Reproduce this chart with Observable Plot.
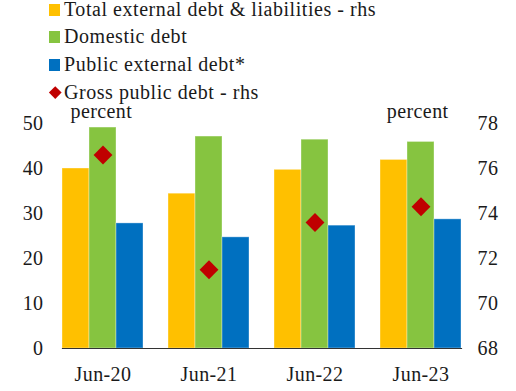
<!DOCTYPE html>
<html><head><meta charset="utf-8">
<script src="https://cdn.jsdelivr.net/npm/d3@7"></script>
<script src="https://cdn.jsdelivr.net/npm/@observablehq/plot@0.6"></script>
<style>
body{margin:0;background:#fff;font-family:"Liberation Serif",serif;color:#1a1a1a;}
#wrap{width:516px;height:391px;overflow:hidden;}
#legend{position:relative;width:516px;height:100px;}
.item{position:absolute;left:49px;height:16px;line-height:16px;font-size:20px;letter-spacing:0.55px;white-space:nowrap;}
.sw{position:absolute;left:0;top:3px;width:11px;height:12px;}
.dm{position:absolute;left:2px;top:4.5px;width:8.5px;height:8.5px;transform:rotate(45deg);}
.lab{position:absolute;left:15px;top:0;}
#chart svg text{letter-spacing:0.4px;}
</style></head>
<body><div id="wrap"><div id="legend"></div><div id="chart"></div></div>
<script>
const periods = ["Jun-20", "Jun-21", "Jun-22", "Jun-23"];
const seriesNames = ["Total external debt & liabilities - rhs", "Domestic debt", "Public external debt*"];
const diamondName = "Gross public debt - rhs";
const totalExternal = [40.0, 34.4, 39.7, 41.9];
const domestic = [49.1, 47.1, 46.4, 45.9];
const publicExternal = [27.8, 24.7, 27.3, 28.7];
const grossPublic = [76.6, 71.5, 73.6, 74.3];
const leftTicks = [0, 10, 20, 30, 40, 50];
const rightTicks = [68, 70, 72, 74, 76, 78];
const unitLabel = "percent";

const barColors = ["#FFC000", "#86C440", "#0070C0"];
const diamondColor = "#C00000";

// map right-axis values onto left-axis scale: 68..78 -> 0..50
const rMin = rightTicks[0], rMax = rightTicks[rightTicks.length - 1];
const lMin = leftTicks[0], lMax = leftTicks[leftTicks.length - 1];
const toLeft = v => lMin + (v - rMin) * (lMax - lMin) / (rMax - rMin);

const bars = [];
[totalExternal, domestic, publicExternal].forEach((arr, si) => {
  arr.forEach((v, i) => bars.push({period: periods[i], series: seriesNames[si], value: v}));
});
const diamonds = grossPublic.map((v, i) => ({period: periods[i], value: v}));

// legend
const legend = document.getElementById("legend");
const items = [
  {name: seriesNames[0], color: barColors[0], kind: "sq"},
  {name: seriesNames[1], color: barColors[1], kind: "sq"},
  {name: seriesNames[2], color: barColors[2], kind: "sq"},
  {name: diamondName, color: diamondColor, kind: "dm"}
];
items.forEach((it, i) => {
  const d = document.createElement("div");
  d.className = "item";
  d.style.top = (0.5 + i * 27.8) + "px";
  const m = document.createElement("span");
  m.className = it.kind === "sq" ? "sw" : "dm";
  m.style.background = it.color;
  const t = document.createElement("span");
  t.className = "lab";
  t.textContent = it.name;
  d.appendChild(m); d.appendChild(t);
  legend.appendChild(d);
});

const font = "Liberation Serif";
const chart = Plot.plot({
  width: 516,
  height: 291,
  marginTop: 23,
  marginBottom: 43,
  marginLeft: 48,
  marginRight: 41,
  style: {fontFamily: font, fontSize: "20px", color: "#1a1a1a", background: "#fff"},
  fx: {domain: periods, paddingInner: 0.234, paddingOuter: 0.12, label: null},
  x: {domain: seriesNames, padding: 0, axis: null},
  y: {domain: [lMin, lMax], axis: null},
  color: {domain: seriesNames, range: barColors},
  marks: [
    Plot.barY(bars, {fx: "period", x: "series", y: "value", fill: "series", stroke: "#ffffff", strokeOpacity: 0.35, strokeWidth: 1}),
    Plot.frame({anchor: "bottom", facet: "super", stroke: "#333", strokeWidth: 1.2}),
    Plot.dot(diamonds, {fx: "period", y: d => toLeft(d.value), symbol: "diamond2", r: 8.5, fill: diamondColor, stroke: "none"}),
    Plot.axisY({anchor: "left", ticks: leftTicks, tickSize: 0, tickPadding: 19, label: null, fontSize: 20}),
    Plot.axisY({anchor: "right", ticks: rightTicks.map(toLeft), tickSize: 0, tickPadding: 16, label: null, fontSize: 20,
      tickFormat: d => String(Math.round(rMin + (d - lMin) * (rMax - rMin) / (lMax - lMin)))}),
    Plot.axisFx({anchor: "bottom", tickSize: 0, tickPadding: 18, label: null, fontSize: 20}),
    Plot.text([unitLabel], {facet: "super", frameAnchor: "top-left", dx: 8, dy: -12, textAnchor: "start", lineAnchor: "middle", fontSize: 20, fill: "#1a1a1a"}),
    Plot.text([unitLabel], {facet: "super", frameAnchor: "top-right", dx: -13, dy: -12, textAnchor: "end", lineAnchor: "middle", fontSize: 20, fill: "#1a1a1a"})
  ]
});
document.getElementById("chart").appendChild(chart);
</script>
</body></html>
